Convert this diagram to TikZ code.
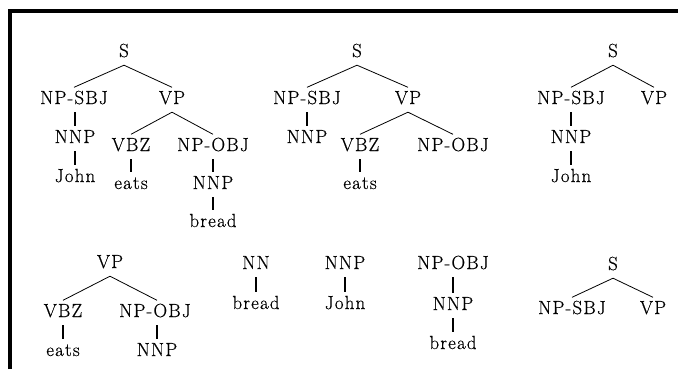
\documentclass[tikz,border=0pt]{standalone}
\usepackage{fontspec}
\newfontfamily\lblfont{Latin Modern Roman}[LetterSpace=6,FakeBold=0.4]
\tikzset{
  lbl/.style={anchor=base, inner xsep=0pt, inner ysep=3.5bp, text height=13bp, text depth=4.5bp,
    font=\lblfont\fontsize{19bp}{22bp}\selectfont},
  br/.style={line width=0.8bp},
  un/.style={line width=2.6bp},
  frame/.style={line width=3.4bp}
}
\begin{document}
\begin{tikzpicture}[x=1bp,y=-1bp]
\useasboundingbox (0,0) rectangle (678,369);
\coordinate (fa) at (10,369);
\coordinate (fb) at (10,11);
\coordinate (fc) at (678,11);
\draw[frame] (fa) -- (fb) -- (fc);

% Tree 1
\node[lbl] (s1) at (124,57) {S};
\node[lbl] (np1) at (74,104) {NP-SBJ};
\node[lbl] (vp1) at (172,104) {VP};
\node[lbl] (nnp1) at (75,143) {NNP};
\node[lbl] (vbz1) at (131,151) {VBZ};
\node[lbl] (obj1) at (213,151) {NP-OBJ};
\node[lbl] (john1) at (75,182) {John};
\node[lbl] (eats1) at (131,189) {eats};
\node[lbl] (nnpb1) at (213,189) {NNP};
\node[lbl] (bread1) at (213,227) {bread};
\draw[br] (s1.south) -- (np1.north);
\draw[br] (s1.south) -- (vp1.north);
\draw[br] (vp1.south) -- (vbz1.north);
\draw[br] (vp1.south) -- (obj1.north);
\draw[un] (nnp1.north |- np1.south) -- (nnp1.north);
\draw[un] (nnp1.south) -- (john1.north);
\draw[un] (vbz1.south) -- (eats1.north);
\draw[un] (obj1.south) -- (nnpb1.north);
\draw[un] (nnpb1.south) -- (bread1.north);

% Tree 2
\node[lbl] (s2) at (357,57) {S};
\node[lbl] (np2) at (307,104) {NP-SBJ};
\node[lbl] (vp2) at (408,104) {VP};
\node[lbl] (nnp2) at (307,143) {NNP};
\node[lbl] (vbz2) at (360,151) {VBZ};
\node[lbl] (obj2) at (453,151) {NP-OBJ};
\node[lbl] (eats2) at (360,189) {eats};
\draw[br] (s2.south) -- (np2.north);
\draw[br] (s2.south) -- (vp2.north);
\draw[br] (vp2.south) -- (vbz2.north);
\draw[br] (vp2.south) -- (obj2.north);
\draw[un] (np2.south) -- (nnp2.north);
\draw[un] (vbz2.south) -- (eats2.north);

% Tree 3
\node[lbl] (s3) at (613,57) {S};
\node[lbl] (np3) at (571,104) {NP-SBJ};
\node[lbl] (vp3) at (654,104) {VP};
\node[lbl] (nnp3) at (571,143) {NNP};
\node[lbl] (john3) at (571,182) {John};
\draw[br] (s3.south) -- (np3.north);
\draw[br] (s3.south) -- (vp3.north);
\draw[un] (np3.south) -- (nnp3.north);
\draw[un] (nnp3.south) -- (john3.north);

% Tree 4
\node[lbl] (vp4) at (110,268) {VP};
\node[lbl] (vbz4) at (63,317) {VBZ};
\node[lbl] (obj4) at (155,317) {NP-OBJ};
\node[lbl] (eats4) at (63,356) {eats};
\node[lbl] (nnp4) at (157,356) {NNP};
\draw[br] (vp4.south) -- (vbz4.north);
\draw[br] (vp4.south) -- (nnp4.north |- obj4.north);
\draw[un] (vbz4.south) -- (eats4.north);
\draw[un] (nnp4.north |- obj4.south) -- (nnp4.north);

% Tree 5
\node[lbl] (nn5) at (256,269) {NN};
\node[lbl] (bread5) at (256,309) {bread};
\draw[un] (nn5.south) -- (bread5.north);

% Tree 6
\node[lbl] (nnp6) at (345,269) {NNP};
\node[lbl] (john6) at (345,309) {John};
\draw[un] (nnp6.south) -- (john6.north);

% Tree 7
\node[lbl] (obj7) at (453,269) {NP-OBJ};
\node[lbl] (nnp7) at (453,310) {NNP};
\node[lbl] (bread7) at (453,349) {bread};
\draw[un] (obj7.south) -- (nnp7.north);
\draw[un] (nnp7.south) -- (bread7.north);

% Tree 8
\node[lbl] (s8) at (613,270) {S};
\node[lbl] (np8) at (572,314) {NP-SBJ};
\node[lbl] (vp8) at (653,314) {VP};
\draw[br] (s8.south) -- (np8.north);
\draw[br] (s8.south) -- (vp8.north);
\end{tikzpicture}
\end{document}
